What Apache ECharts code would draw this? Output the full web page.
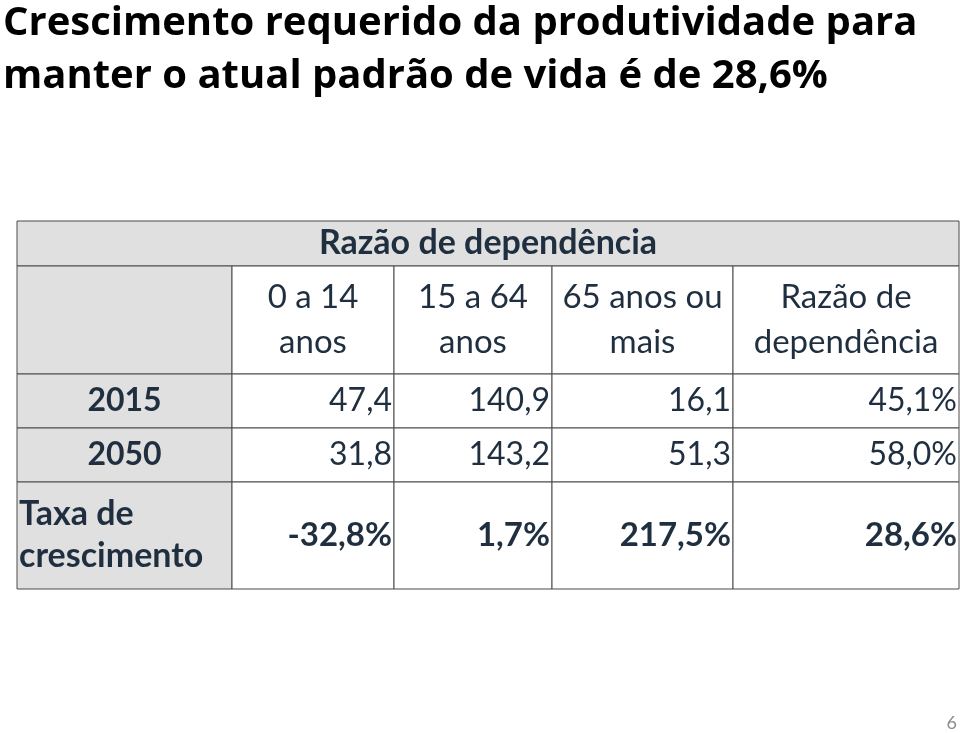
<!DOCTYPE html>
<html>
<head>
<meta charset="utf-8">
<script src="https://cdn.jsdelivr.net/npm/echarts@6/dist/echarts.min.js"></script>
<style>
  html, body { margin: 0; padding: 0; background: #fff; }
  #main { width: 960px; height: 733px; }
</style>
</head>
<body>
<div id="main"></div>
<script>
// data
var headerGroup = "Razão de dependência";
var categories = ["0 a 14\nanos", "15 a 64\nanos", "65 anos ou\nmais", "Razão de\ndependência"];
var rowLabels = ["2015", "2050", "Taxa de\ncrescimento"];
var values2015 = [47.4, 140.9, 16.1, 45.1];
var values2050 = [31.8, 143.2, 51.3, 58.0];
var growthRate = [-32.8, 1.7, 217.5, 28.6];

// layout (axis units = px inside the grid)
var colEdges = [0, 215, 377, 535, 716, 942];
var rowEdges = [0, 45, 153, 207, 261, 368];

var textColor = "#1f2f3f";
var headFill = "#e0e0e0";
var lineColor = "#4a4a4a";

void (function() {
  var myChart = echarts.init(document.getElementById("main"));

  function fmt(v, pct) {
    return v.toFixed(1).replace(".", ",") + (pct ? "%" : "");
  }

  // cell: [colStart, colEnd, row, text, align, bold, fill, lineHeight, fontSize]
  var cells = [];
  cells.push([0, 5, 0, headerGroup, "center", true, headFill, 40, 34]);
  cells.push([0, 1, 1, "", "center", false, headFill, 45, 32]);
  categories.forEach(function(c, i) {
    cells.push([i + 1, i + 2, 1, c, "center", false, "#fff", 45, 33]);
  });
  [values2015, values2050].forEach(function(arr, r) {
    cells.push([0, 1, r + 2, rowLabels[r], "center", true, headFill, 40, 32]);
    arr.forEach(function(v, i) {
      cells.push([i + 1, i + 2, r + 2, fmt(v, i === 3), "right", false, "#fff", 40, 32]);
    });
  });
  cells.push([0, 1, 4, rowLabels[2], "left", true, headFill, 42, 34]);
  growthRate.forEach(function(v, i) {
    cells.push([i + 1, i + 2, 4, fmt(v, true), "right", true, "#fff", 40, 33]);
  });

  var option = {
    animation: false,
    title: {
      text: "Crescimento requerido da produtividade para\nmanter o atual padrão de vida é de 28,6%",
      left: -2,
      top: -8,
      textStyle: {
        fontFamily: "Open Sans",
        fontWeight: "bold",
        fontSize: 40,
        lineHeight: 53,
        color: "#000"
      }
    },
    graphic: [
      {
        type: "text",
        right: 3,
        bottom: 1,
        style: { text: "6", fontFamily: "Lato", fontSize: 18, fill: "#8c8c8c" }
      }
    ],
    grid: { left: 17, top: 221, width: 942, height: 368 },
    xAxis: { type: "value", min: 0, max: 942, show: false },
    yAxis: { type: "value", min: 0, max: 368, inverse: true, show: false },
    series: [
      {
        type: "custom",
        data: cells.map(function(c) {
          return [colEdges[c[0]], colEdges[c[1]], rowEdges[c[2]], rowEdges[c[2] + 1]];
        }),
        renderItem: function(params, api) {
          var c = cells[params.dataIndex];
          var p0 = api.coord([api.value(0), api.value(2)]);
          var p1 = api.coord([api.value(1), api.value(3)]);
          var tx = c[4] === "center" ? (p0[0] + p1[0]) / 2 : c[4] === "right" ? p1[0] - 2 : p0[0] + 2;
          return {
            type: "group",
            children: [
              {
                type: "rect",
                shape: { x: p0[0], y: p0[1], width: p1[0] - p0[0], height: p1[1] - p0[1] },
                style: { fill: c[6], stroke: lineColor, lineWidth: 1 }
              },
              {
                type: "text",
                style: {
                  x: tx,
                  y: (p0[1] + p1[1]) / 2,
                  text: c[3],
                  align: c[4],
                  verticalAlign: "middle",
                  fontFamily: "Lato",
                  fontSize: c[8],
                  fontWeight: c[5] ? "bold" : "normal",
                  lineHeight: c[7],
                  fill: textColor
                }
              }
            ]
          };
        }
      }
    ]
  };

  myChart.setOption(option);
})();
</script>
</body>
</html>
